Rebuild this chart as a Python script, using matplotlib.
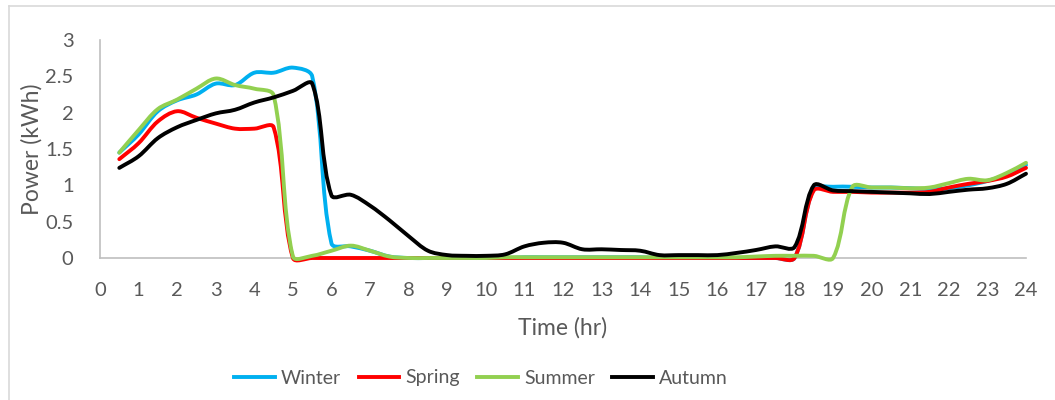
import matplotlib
matplotlib.use("Agg")
import numpy as np
import matplotlib.pyplot as plt
from matplotlib.lines import Line2D
from matplotlib.path import Path
from matplotlib.patches import PathPatch

hours = [0.5, 1.0, 1.5, 2.0, 2.5, 3.0, 3.5, 4.0, 4.5, 5.0, 5.5, 6.0,
         6.5, 7.0, 7.5, 8.0, 8.5, 9.0, 9.5, 10.0, 10.5, 11.0, 11.5, 12.0,
         12.5, 13.0, 13.5, 14.0, 14.5, 15.0, 15.5, 16.0, 16.5, 17.0, 17.5, 18.0,
         18.5, 19.0, 19.5, 20.0, 20.5, 21.0, 21.5, 22.0, 22.5, 23.0, 23.5, 24.0]

winter = [1.45, 1.70, 2.02, 2.17, 2.25, 2.40, 2.38, 2.55, 2.55, 2.62, 2.50, 0.20,
          0.16, 0.10, 0.02, 0.00, 0.00, 0.00, 0.00, 0.00, 0.00, 0.01, 0.01, 0.01,
          0.01, 0.01, 0.01, 0.01, 0.00, 0.00, 0.00, 0.00, 0.00, 0.00, 0.00, 0.00,
          0.95, 0.98, 0.98, 0.97, 0.97, 0.96, 0.95, 0.96, 1.00, 1.06, 1.15, 1.28]

spring = [1.36, 1.58, 1.88, 2.02, 1.93, 1.85, 1.78, 1.78, 1.80, 0.00, 0.00, 0.00,
          0.00, 0.00, 0.00, 0.00, 0.00, 0.00, 0.00, 0.00, 0.00, 0.00, 0.00, 0.00,
          0.00, 0.00, 0.00, 0.00, 0.00, 0.00, 0.00, 0.00, 0.00, 0.00, 0.00, 0.00,
          0.93, 0.91, 0.91, 0.90, 0.90, 0.90, 0.91, 0.97, 1.02, 1.06, 1.12, 1.24]

summer = [1.45, 1.76, 2.05, 2.18, 2.33, 2.47, 2.38, 2.33, 2.24, 0.02, 0.03, 0.10,
          0.17, 0.10, 0.02, 0.00, 0.00, 0.00, 0.00, 0.00, 0.01, 0.01, 0.01, 0.01,
          0.01, 0.01, 0.01, 0.01, 0.01, 0.01, 0.01, 0.01, 0.01, 0.02, 0.03, 0.03,
          0.03, 0.00, 0.98, 0.97, 0.97, 0.96, 0.97, 1.03, 1.09, 1.07, 1.17, 1.31]

autumn = [1.24, 1.40, 1.65, 1.80, 1.90, 1.99, 2.04, 2.14, 2.21, 2.30, 2.40, 0.86,
          0.87, 0.72, 0.52, 0.30, 0.10, 0.04, 0.03, 0.03, 0.05, 0.16, 0.21, 0.21,
          0.12, 0.12, 0.11, 0.10, 0.04, 0.04, 0.04, 0.04, 0.07, 0.11, 0.16, 0.15,
          1.00, 0.93, 0.92, 0.91, 0.90, 0.89, 0.88, 0.91, 0.94, 0.96, 1.02, 1.16]

series_names = ["Winter", "Spring", "Summer", "Autumn"]
series_colors = ["#00B0F0", "#FF0000", "#92D050", "#000000"]
x_ticks = list(range(0, 25))
y_ticks = [0, 0.5, 1, 1.5, 2, 2.5, 3]
y_tick_labels = ["0", "0.5", "1", "1.5", "2", "2.5", "3"]

plt.rcParams['font.family'] = ['Lato', 'DejaVu Sans']
text_color = "#595959"


def smooth_path(ax, xs, ys, tension=1.0 / 3.0):
    """Excel-like smoothed line: cubic Bezier segments through every data point,
    control lengths weighted by neighbouring segment lengths (on screen)."""
    pts = ax.transData.transform(np.column_stack([xs, ys]))
    n = len(pts)
    fwd = np.zeros_like(pts)
    bwd = np.zeros_like(pts)
    for i in range(n):
        p = pts[i]
        pp = pts[max(i - 1, 0)]
        pn = pts[min(i + 1, n - 1)]
        dp = np.hypot(*(p - pp))
        dn = np.hypot(*(pn - p))
        tot = dp + dn
        tvec = pn - pp
        if tot == 0:
            fwd[i] = p
            bwd[i] = p
        else:
            fwd[i] = p + tvec * tension * dn / tot
            bwd[i] = p - tvec * tension * dp / tot
    verts = [pts[0]]
    codes = [Path.MOVETO]
    for i in range(n - 1):
        verts += [fwd[i], bwd[i + 1], pts[i + 1]]
        codes += [Path.CURVE4] * 3
    verts = ax.transData.inverted().transform(np.array(verts))
    return Path(verts, codes)


fig = plt.figure(figsize=(10.55, 4.0), dpi=100)
ax = fig.add_axes([100 / 1055, 1 - 258 / 400, 926 / 1055, 218 / 400])
ax.set_xlim(0, 24)
ax.set_ylim(0, 3)

for vals, name, col in zip([winter, spring, summer, autumn], series_names, series_colors):
    patch = PathPatch(smooth_path(ax, hours, vals), facecolor='none', edgecolor=col,
                      lw=2.8, joinstyle='round', capstyle='round', label=name,
                      transform=ax.transData, clip_on=False)
    ax.add_patch(patch)

ax.set_xticks(x_ticks)
ax.set_xticklabels([str(t) for t in x_ticks])
ax.set_yticks(y_ticks)
ax.set_yticklabels(y_tick_labels)
ax.tick_params(axis='both', length=0, labelsize=14.5, colors=text_color)
ax.tick_params(axis='x', pad=17)
ax.tick_params(axis='y', pad=19)

for s in ['top', 'right']:
    ax.spines[s].set_visible(False)
for s in ['left', 'bottom']:
    ax.spines[s].set_color("#BFBFBF")
    ax.spines[s].set_linewidth(1.2)
    ax.spines[s].set_zorder(0.5)

fig.text(32 / 1055, 1 - 149 / 400, "Power (kWh)", rotation=90, ha='center', va='center',
         fontsize=16.5, color=text_color)
fig.text(563 / 1055, 1 - 328 / 400, "Time (hr)", ha='center', va='center',
         fontsize=16.5, color=text_color)

handles = [Line2D([0], [0], color=c, lw=2.8) for c in series_colors]
fig.legend(handles, series_names, loc='center', bbox_to_anchor=(481 / 1055, 1 - 378 / 400),
           ncol=4, frameon=False, fontsize=14, handlelength=2.1, handletextpad=0.3,
           columnspacing=0.9, labelcolor=text_color)

# chart frame (top and left edges visible)
fig.add_artist(Line2D([8.5 / 1055, 1.0], [1 - 6 / 400, 1 - 6 / 400],
                      transform=fig.transFigure, color="#D9D9D9", lw=1.2))
fig.add_artist(Line2D([8.5 / 1055, 8.5 / 1055], [0, 1 - 6 / 400],
                      transform=fig.transFigure, color="#D9D9D9", lw=1.2))

fig.savefig("out.png", dpi=100, facecolor="white")
